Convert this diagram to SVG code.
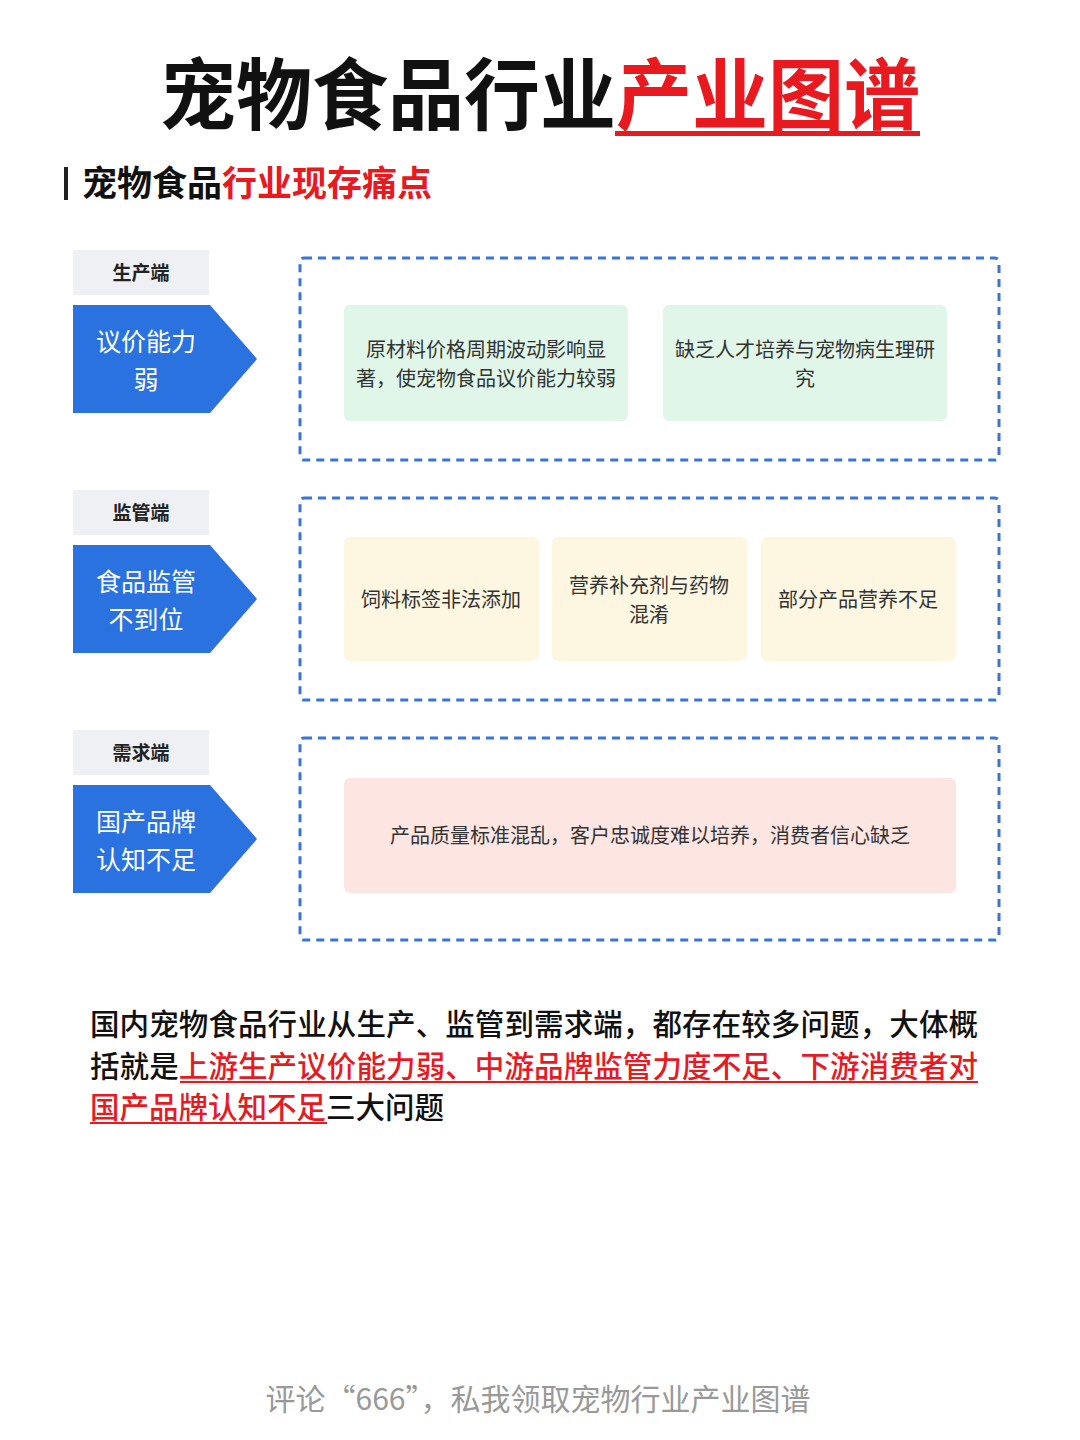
<svg xmlns="http://www.w3.org/2000/svg" width="1080" height="1440" viewBox="0 0 1080 1440">
<style>
text{font-family:"Noto Sans CJK SC","Noto Sans",sans-serif}
.lab{fill:#eef0f3}.labt{font-size:19px;font-weight:700;fill:#222;text-anchor:middle}
.arr{fill:#2a72e0}.arrt{font-size:25px;fill:#fff;text-anchor:middle}
.dash{fill:none;stroke:#3a74d6;stroke-width:3;stroke-dasharray:8 6}
.card{font-size:20px;fill:#333;text-anchor:middle}
.red{fill:#e8191f}
.bt{font-size:29.5px;font-weight:500;fill:#111}
</style>
<rect width="1080" height="1440" fill="#fff"/>
<text x="160" y="124" font-size="78" font-weight="700" fill="#111" textLength="760" lengthAdjust="spacingAndGlyphs">宠物食品行业<tspan class="red">产业图谱</tspan></text>
<rect x="615" y="131" width="305" height="5" class="red"/>
<rect x="64" y="167" width="4" height="33" fill="#222"/>
<text x="82" y="196" font-size="35" font-weight="700" fill="#111">宠物食品<tspan class="red">行业现存痛点</tspan></text>

<g id="row1">
<rect class="lab" x="73" y="250" width="136" height="45"/><text class="labt" x="141" y="280">生产端</text>
<path class="arr" d="M73 305H210L257 359L210 413H73Z"/>
<text class="arrt" x="146" y="351">议价能力</text><text class="arrt" x="146" y="389">弱</text>
<rect class="dash" x="300" y="258" width="699" height="202" rx="4"/>
<rect x="344" y="305" width="284" height="116" rx="6" fill="#dff6e8"/>
<text class="card" x="486" y="357">原材料价格周期波动影响显</text><text class="card" x="486" y="386">著，使宠物食品议价能力较弱</text>
<rect x="663" y="305" width="284" height="116" rx="6" fill="#dff6e8"/>
<text class="card" x="805" y="357">缺乏人才培养与宠物病生理研</text><text class="card" x="805" y="386">究</text>
</g>
<g id="row2">
<rect class="lab" x="73" y="490" width="136" height="45"/><text class="labt" x="141" y="520">监管端</text>
<path class="arr" d="M73 545H210L257 599L210 653H73Z"/>
<text class="arrt" x="146" y="591">食品监管</text><text class="arrt" x="146" y="629">不到位</text>
<rect class="dash" x="300" y="498" width="699" height="202" rx="4"/>
<rect x="344" y="537" width="195" height="124" rx="6" fill="#fdf6e1"/>
<text class="card" x="441" y="607">饲料标签非法添加</text>
<rect x="552" y="537" width="195" height="124" rx="6" fill="#fdf6e1"/>
<text class="card" x="649" y="593">营养补充剂与药物</text><text class="card" x="649" y="622">混淆</text>
<rect x="761" y="537" width="195" height="124" rx="6" fill="#fdf6e1"/>
<text class="card" x="858" y="607">部分产品营养不足</text>
</g>
<g id="row3">
<rect class="lab" x="73" y="730" width="136" height="45"/><text class="labt" x="141" y="760">需求端</text>
<path class="arr" d="M73 785H210L257 839L210 893H73Z"/>
<text class="arrt" x="146" y="831">国产品牌</text><text class="arrt" x="146" y="869">认知不足</text>
<rect class="dash" x="300" y="738" width="699" height="202" rx="4"/>
<rect x="344" y="778" width="612" height="115" rx="6" fill="#fde5e1"/>
<text class="card" x="650" y="843">产品质量标准混乱，客户忠诚度难以培养，消费者信心缺乏</text>
</g>
<g id="connectors"/>
<text class="bt" x="90" y="1035" textLength="888">国内宠物食品行业从生产、监管到需求端，都存在较多问题，大体概</text>
<text class="bt" x="90" y="1077" textLength="888">括就是<tspan class="red">上游生产议价能力弱、中游品牌监管力度不足、下游消费者对</tspan></text>
<text class="bt" x="90" y="1118"><tspan class="red">国产品牌认知不足</tspan>三大问题</text>
<rect x="180" y="1081" width="798" height="2" class="red"/>
<rect x="90" y="1122" width="237" height="2" class="red"/>
<text x="538" y="1410" font-size="30" fill="#999" text-anchor="middle">评论“666”，私我领取宠物行业产业图谱</text>
</svg>
